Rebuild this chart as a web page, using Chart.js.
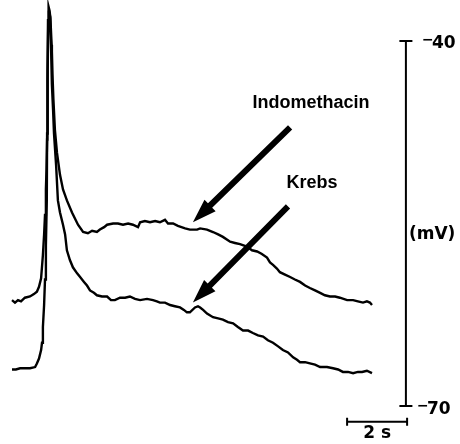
<!DOCTYPE html>
<html>
<head>
<meta charset="utf-8">
<script src="https://cdn.jsdelivr.net/npm/chart.js@4/dist/chart.umd.min.js"></script>
<style>
html,body{margin:0;padding:0;background:#fff;}
canvas{display:block;}
</style>
</head>
<body>
<canvas id="c" width="460" height="444"></canvas>
<script>
// Time (s) and membrane potential (mV)
const indoT = [0,0.1,0.2,0.3,0.43,0.6,0.73,0.83,0.9,0.97,1.03,1.07,1.1,1.13,1.15,1.17,1.18,1.2,1.22,1.25,1.28,1.32,1.35,1.38,1.43,1.5,1.6,1.7,1.83,2.0,2.2,2.37,2.53,2.67,2.83,2.93,3.07,3.17,3.37,3.53,3.7,3.87,4.03,4.2,4.27,4.43,4.6,4.77,4.93,5.1,5.2,5.37,5.53,5.77,5.93,6.17,6.27,6.5,6.7,6.87,7.03,7.27,7.43,7.6,7.83,8.0,8.17,8.33,8.5,8.6,8.7,8.83,8.93,9.1,9.27,9.43,9.6,9.77,9.93,10.1,10.27,10.43,10.6,10.77,10.93,11.17,11.37,11.53,11.7,11.83,11.93,12.0];
const indoV = [-61.3,-61.5,-61.3,-61.4,-61.1,-61.0,-60.8,-60.6,-60.2,-59.5,-57.6,-55.9,-54.3,-52.2,-50.6,-48.1,-43.2,-38.3,-37.2,-37.5,-38.1,-40.3,-42.8,-44.8,-47.3,-49.2,-51.0,-52.2,-53.1,-54.1,-55.1,-55.7,-55.8,-55.6,-55.7,-55.5,-55.3,-55.1,-55.0,-55.0,-55.1,-55.0,-55.1,-55.3,-54.9,-54.8,-54.9,-54.8,-54.9,-54.7,-55.0,-55.0,-55.2,-55.4,-55.5,-55.5,-55.4,-55.5,-55.7,-55.9,-56.1,-56.5,-56.6,-56.7,-56.9,-57.2,-57.3,-57.5,-57.8,-58.2,-58.4,-58.7,-59.0,-59.2,-59.4,-59.6,-59.8,-60.1,-60.3,-60.5,-60.7,-60.9,-61.0,-61.0,-61.1,-61.3,-61.3,-61.4,-61.5,-61.4,-61.5,-61.7];

const krebsT = [0,0.13,0.27,0.43,0.6,0.77,0.83,0.9,0.97,1.0,1.03,1.07,1.1,1.13,1.16,1.17,1.19,1.21,1.23,1.27,1.3,1.33,1.37,1.4,1.47,1.53,1.6,1.7,1.77,1.83,1.93,2.03,2.17,2.27,2.4,2.5,2.6,2.73,2.83,3.0,3.17,3.3,3.43,3.6,3.77,3.93,4.1,4.27,4.5,4.7,4.83,4.93,5.1,5.27,5.43,5.6,5.73,5.83,5.93,6.1,6.2,6.27,6.37,6.5,6.7,6.87,7.03,7.2,7.37,7.53,7.7,7.87,8.03,8.2,8.37,8.53,8.7,8.87,9.03,9.2,9.37,9.5,9.6,9.77,9.93,10.1,10.27,10.5,10.7,10.87,11.03,11.2,11.37,11.53,11.67,11.83,12.0];
const krebsV = [-67.0,-67.0,-66.9,-66.9,-66.9,-66.8,-66.5,-66.1,-65.4,-64.8,-63.5,-61.7,-59.6,-56.8,-53.1,-47.6,-42.4,-38.3,-37.5,-38.0,-40.3,-43.6,-45.7,-47.6,-50.2,-53.1,-54.1,-55.1,-55.9,-57.2,-58.0,-58.6,-59.1,-59.4,-59.8,-60.1,-60.5,-60.7,-60.9,-61.0,-61.0,-61.3,-61.3,-61.1,-61.1,-61.0,-61.2,-61.3,-61.2,-61.3,-61.4,-61.5,-61.5,-61.7,-61.8,-61.9,-62.1,-62.3,-62.3,-61.9,-61.8,-61.9,-62.1,-62.4,-62.7,-62.8,-62.9,-63.1,-63.2,-63.5,-63.8,-63.8,-64.0,-64.2,-64.3,-64.6,-64.8,-65.1,-65.4,-65.6,-66.0,-66.2,-66.4,-66.4,-66.5,-66.6,-66.8,-66.8,-66.9,-67.0,-67.2,-67.2,-67.3,-67.2,-67.2,-67.1,-67.3];

// Scale bar values
const mvBarTicks = [-40, -70];
const mvBarAtTime = 13.13;
const mvUnitLabel = "(mV)";
const mvUnitAt = -55.9;
const timeBar = [11.17, 13.17];
const timeBarAtMV = -71.3;
const timeBarLabel = "2 s";

// Annotation labels and arrows (tail -> tip), in data units
const labelNames = ["Indomethacin", "Krebs"];
const labelAt = [[9.97, -45.1], [10.0, -51.7]];
const arrowTail = [[9.27, -47.1], [9.2, -53.6]];
const arrowTip = [[6.03, -54.9], [6.03, -61.5]];

const toXY = (ts, vs) => ts.map((t, i) => ({x: t, y: vs[i]}));

const overlay = {
  id: 'overlay',
  afterDatasetsDraw(chart) {
    const ctx = chart.ctx;
    const xs = chart.scales.x, ys = chart.scales.y;
    const px = v => xs.getPixelForValue(v);
    const py = v => ys.getPixelForValue(v);
    ctx.save();
    ctx.fillStyle = '#000';
    ctx.strokeStyle = '#000';

    // arrows
    arrowTail.forEach((tail, i) => {
      const x1 = px(tail[0]), y1 = py(tail[1]);
      const x2 = px(arrowTip[i][0]), y2 = py(arrowTip[i][1]);
      const ang = Math.atan2(y2 - y1, x2 - x1);
      const len = Math.hypot(x2 - x1, y2 - y1);
      const headL = 24, headW = 8, shaftW = 3;
      ctx.save();
      ctx.translate(x1, y1);
      ctx.rotate(ang);
      ctx.beginPath();
      ctx.moveTo(0, -shaftW);
      ctx.lineTo(len - headL, -shaftW);
      ctx.lineTo(len - headL, -headW);
      ctx.lineTo(len, 0);
      ctx.lineTo(len - headL, headW);
      ctx.lineTo(len - headL, shaftW);
      ctx.lineTo(0, shaftW);
      ctx.closePath();
      ctx.fill();
      ctx.restore();
    });

    // labels
    ctx.font = 'bold 18px "Liberation Sans", Arial, sans-serif';
    ctx.textAlign = 'center';
    ctx.textBaseline = 'middle';
    labelNames.forEach((n, i) => {
      ctx.fillText(n, px(labelAt[i][0]), py(labelAt[i][1]));
    });

    // vertical mV scale bar
    ctx.lineWidth = 2;
    const bx = px(mvBarAtTime);
    const yTop = py(mvBarTicks[0]), yBot = py(mvBarTicks[1]);
    ctx.beginPath();
    ctx.moveTo(bx, yTop); ctx.lineTo(bx, yBot);
    ctx.moveTo(bx - 6.5, yTop); ctx.lineTo(bx + 6.5, yTop);
    ctx.moveTo(bx - 6.5, yBot); ctx.lineTo(bx + 6.5, yBot);
    ctx.stroke();

    ctx.font = 'bold 17px "DejaVu Sans", sans-serif';
    ctx.textAlign = 'left';
    ctx.textBaseline = 'middle';
    mvBarTicks.forEach((t, i) => {
      const yy = py(t);
      const digits = String(Math.abs(t));
      const off = i === 0 ? 3 : 4;
      const mx = i === 0 ? bx + 16 : bx + 11;
      ctx.font = 'bold 14px "DejaVu Sans", sans-serif';
      ctx.fillText('\u2212', mx, yy - (i === 0 ? 1 : 0));
      ctx.font = 'bold 17px "DejaVu Sans", sans-serif';
      ctx.fillText(digits, mx + 10, yy + off);
    });
    ctx.fillText(mvUnitLabel, bx + 3, py(mvUnitAt));

    // horizontal time scale bar
    const tx1 = px(timeBar[0]), tx2 = px(timeBar[1]), ty = py(timeBarAtMV);
    ctx.beginPath();
    ctx.moveTo(tx1, ty); ctx.lineTo(tx2, ty);
    ctx.moveTo(tx1, ty - 4); ctx.lineTo(tx1, ty + 4);
    ctx.moveTo(tx2, ty - 4); ctx.lineTo(tx2, ty + 4);
    ctx.stroke();
    ctx.textAlign = 'center';
    ctx.fillText(timeBarLabel, (tx1 + tx2) / 2, ty + 12);

    ctx.restore();
  }
};

new Chart(document.getElementById('c'), {
  type: 'line',
  data: {
    datasets: [
      {label: 'Indomethacin', data: toXY(indoT, indoV), borderColor: '#000', borderWidth: 2.4, pointRadius: 0, tension: 0, clip: false, fill: false},
      {label: 'Krebs', data: toXY(krebsT, krebsV), borderColor: '#000', borderWidth: 2.4, pointRadius: 0, tension: 0, clip: false, fill: false}
    ]
  },
  options: {
    responsive: false,
    animation: false,
    devicePixelRatio: 1,
    layout: {padding: {left: 12, right: 43, top: 41, bottom: 38}},
    plugins: {legend: {display: false}, tooltip: {enabled: false}},
    scales: {
      x: {type: 'linear', min: 0, max: 13.5, display: false},
      y: {type: 'linear', min: -70, max: -40, display: false}
    }
  },
  plugins: [overlay]
});
</script>
</body>
</html>
